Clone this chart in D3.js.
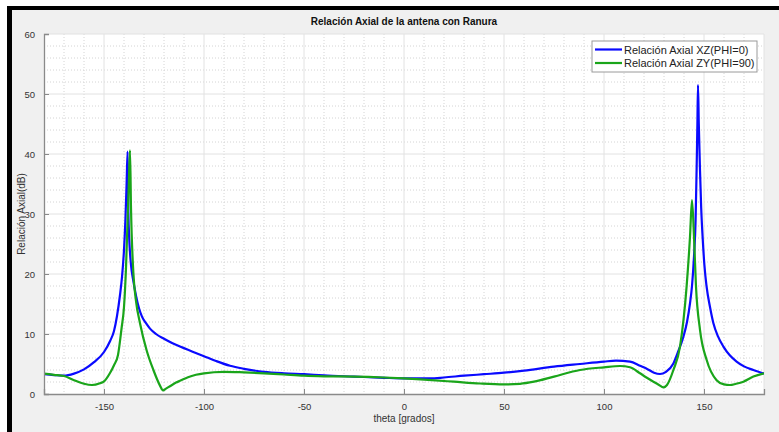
<!DOCTYPE html>
<html>
<head>
<meta charset="utf-8">
<script src="https://cdn.jsdelivr.net/npm/d3@7"></script>
<style>
    body { margin: 0; background: #ffffff; }
    #chart { width: 779px; height: 432px; }
    text { font-family: "Liberation Sans", Arial, sans-serif; }
</style>
</head>
<body>
<div id="chart"></div>
<script>
// Relación axial XZ (PHI=0)
const thetaXZ = [-180, -175, -170, -165, -160, -155, -150, -147, -145, -143.5, -142, -141, -140, -139.3, -138.7, -138.2,
    -137.8, -137.4, -136.5, -135.3, -134, -132.5, -131, -129, -127, -124, -120, -116, -112, -106, -100, -94, -87, -80, -70, -60, -50,
    -40, -25, -10, 0, 13, 20, 30, 40, 50, 60, 75, 88, 100, 106, 113, 118, 122, 125, 128, 131, 134.7, 137, 139.7, 141.5,
    143, 144, 145, 145.8, 146.3, 146.7, 147, 147.4, 148, 148.6, 149.3, 150.2, 151.3, 153, 154.7, 157, 159.7, 163, 166.3,
    170, 174.7, 180];
const valXZ = [3.3, 3.15, 3.05, 3.4, 4.1, 5.3, 7.0, 8.8, 10.5, 13, 16.5, 19.5, 24, 29, 35, 40.4,
    30, 26, 21.5, 18.8, 16.4, 14.3, 12.9, 11.8, 10.9, 10.0, 9.2, 8.5, 7.9, 7.1, 6.3, 5.5, 4.7, 4.2, 3.7, 3.45, 3.3,
    3.1, 2.9, 2.7, 2.6, 2.6, 2.75, 3.05, 3.3, 3.55, 3.9, 4.55, 5.0, 5.4, 5.55, 5.4, 4.7, 4.1, 3.55, 3.33, 3.7, 5.1, 7, 9.55, 12,
    15.1, 18, 22.9, 29, 37.3, 45, 51.5, 45, 37.3, 31, 26.2, 21.5, 17.9, 14.5, 11.8, 9.6, 7.9, 6.4, 5.4,
    4.6, 4.0, 3.4];

// Relación axial ZY (PHI=90)
const thetaZY = [-180, -175, -170, -165, -160, -156, -152, -150, -147, -145, -143, -141.2, -140, -139, -138.3, -137.6,
    -137, -136.5, -135.3, -134, -132, -128.7, -125.3, -122, -120.5, -119, -117, -114, -112, -108, -104, -100, -90, -80,
    -70, -60, -50, -40, -25, -10, 0, 12, 25, 38, 50, 58, 65, 75, 88, 100, 108, 113, 118, 121, 124.7, 127.5, 129.7, 131.5,
    134.7, 138, 141.3, 143, 144, 145, 146, 148, 151.3, 156.3, 160, 163, 166, 169.7, 174.7, 180];
const valZY = [3.4, 3.2, 3.0, 2.3, 1.7, 1.5, 1.8, 2.1, 3.5, 4.8, 6.5, 11, 14.5, 21, 28, 35,
    40.6, 31, 20.1, 15.5, 11.8, 7.3, 4.0, 1.4, 0.6, 0.9, 1.3, 1.9, 2.2, 2.8, 3.2, 3.45, 3.7, 3.6,
    3.45, 3.25, 3.05, 2.95, 2.9, 2.75, 2.6, 2.35, 2.05, 1.75, 1.6, 1.7, 2.05, 2.9, 4.0, 4.45, 4.67, 4.45, 3.45, 2.8, 2.05, 1.5, 1.1, 1.5,
    4.0, 7.9, 17.9, 26.2, 32.3, 26.2, 17.9, 10.7, 5.7, 2.3, 1.6, 1.5, 1.7, 2.05, 2.9, 3.45];

const xTicks = [-150, -100, -50, 0, 50, 100, 150];
const yTicks = [0, 10, 20, 30, 40, 50, 60];
const seriesNames = ["Relación Axial XZ(PHI=0)", "Relación Axial ZY(PHI=90)"];
const seriesColors = ["#0a0aff", "#1aa51a"];

class AxialVis {

    constructor(parentElement) {
        this.parentElement = parentElement;
        this.series = [
            thetaXZ.map((t, i) => ({theta: t, val: valXZ[i]})),
            thetaZY.map((t, i) => ({theta: t, val: valZY[i]}))
        ];
        this.initVis()
    }

    initVis() {
        let vis = this

        vis.W = 779;
        vis.H = 432;
        vis.margin = {top: 34, right: 15, bottom: 38, left: 44};
        vis.width = vis.W - vis.margin.left - vis.margin.right;
        vis.height = vis.H - vis.margin.top - vis.margin.bottom;

        vis.svg = d3.select("#" + vis.parentElement).append("svg")
            .attr("width", vis.W)
            .attr("height", vis.H);

        // figure background + black frame from the screenshot
        vis.svg.append("rect").attr("x", 7).attr("y", 6).attr("width", vis.W - 7).attr("height", vis.H - 6)
            .attr("fill", "#000");
        vis.svg.append("rect").attr("x", 12).attr("y", 10).attr("width", vis.W - 12).attr("height", vis.H - 10)
            .attr("fill", "#f0f0f0");

        vis.g = vis.svg.append("g")
            .attr("transform", `translate(${vis.margin.left}, ${vis.margin.top})`);

        vis.g.append("rect")
            .attr("width", vis.width)
            .attr("height", vis.height)
            .attr("fill", "#fff");

        vis.x = d3.scaleLinear().domain([-180, 180]).range([0, vis.width]);
        vis.y = d3.scaleLinear().domain([0, 60]).range([vis.height, 0]);

        // minor grid (dotted)
        vis.g.append("g").selectAll("line")
            .data(d3.range(-170, 180, 10).filter(d => d % 50 !== 0))
            .enter().append("line")
            .attr("x1", d => vis.x(d)).attr("x2", d => vis.x(d))
            .attr("y1", 0).attr("y2", vis.height)
            .attr("stroke", "#d4d4d4").attr("stroke-dasharray", "1,2");
        vis.g.append("g").selectAll("line")
            .data(d3.range(2, 60, 2).filter(d => d % 10 !== 0))
            .enter().append("line")
            .attr("x1", 0).attr("x2", vis.width)
            .attr("y1", d => vis.y(d)).attr("y2", d => vis.y(d))
            .attr("stroke", "#d4d4d4").attr("stroke-dasharray", "1,2");

        // major grid
        vis.g.append("g").selectAll("line")
            .data(xTicks)
            .enter().append("line")
            .attr("x1", d => vis.x(d)).attr("x2", d => vis.x(d))
            .attr("y1", 0).attr("y2", vis.height)
            .attr("stroke", "#e2e2e2");
        vis.g.append("g").selectAll("line")
            .data(yTicks.slice(1))
            .enter().append("line")
            .attr("x1", 0).attr("x2", vis.width)
            .attr("y1", d => vis.y(d)).attr("y2", d => vis.y(d))
            .attr("stroke", "#e2e2e2");
        // right edge
        vis.g.append("line").attr("x1", vis.width).attr("x2", vis.width).attr("y1", 0).attr("y2", vis.height)
            .attr("stroke", "#e2e2e2");

        // lines
        vis.g.append("clipPath").attr("id", "clip")
            .append("rect").attr("width", vis.width).attr("height", vis.height);

        vis.line = d3.line()
            .x(d => vis.x(d.theta))
            .y(d => vis.y(d.val))
            .curve(d3.curveMonotoneX);

        vis.g.append("g").attr("clip-path", "url(#clip)")
            .selectAll("path")
            .data(vis.series)
            .enter().append("path")
            .attr("d", vis.line)
            .attr("fill", "none")
            .attr("stroke", (d, i) => seriesColors[i])
            .attr("stroke-width", 2.2)
            .attr("stroke-linejoin", "round");

        // axes (ticks point inward, matlab style), plain hyphen for negatives
        vis.xAxis = d3.axisBottom(vis.x).tickValues(xTicks).tickSize(-5).tickPadding(9).tickFormat(d => String(d));
        vis.yAxis = d3.axisLeft(vis.y).tickValues(yTicks).tickSize(-5).tickPadding(9).tickFormat(d => String(d));

        let xg = vis.g.append("g")
            .attr("transform", `translate(0, ${vis.height})`)
            .call(vis.xAxis);
        let yg = vis.g.append("g").call(vis.yAxis);

        [xg, yg].forEach(a => {
            a.select(".domain").attr("stroke", "#8a8a8a").attr("stroke-width", 1.3);
            a.selectAll(".tick line").attr("stroke", "#8a8a8a");
            a.selectAll(".tick text").attr("fill", "#333").style("font-size", "9.5px")
                .style("font-family", "'Liberation Sans', Arial, sans-serif");
        });

        // title and labels
        vis.svg.append("text")
            .attr("x", vis.margin.left + vis.width / 2)
            .attr("y", 25)
            .attr("text-anchor", "middle")
            .style("font-size", "10px")
            .style("font-weight", "bold")
            .attr("fill", "#111")
            .text("Relación Axial de la antena con Ranura");

        vis.svg.append("text")
            .attr("x", vis.margin.left + vis.width / 2)
            .attr("y", 422)
            .attr("text-anchor", "middle")
            .style("font-size", "10px")
            .attr("fill", "#333")
            .text("theta [grados]");

        vis.svg.append("text")
            .attr("transform", `translate(25, ${vis.margin.top + vis.height / 2}) rotate(-90)`)
            .attr("text-anchor", "middle")
            .style("font-size", "10px")
            .attr("fill", "#333")
            .text("Relación Axial(dB)");

        // legend
        vis.legend = vis.svg.append("g").attr("transform", "translate(592, 41)");
        vis.legend.append("rect")
            .attr("width", 165).attr("height", 31)
            .attr("fill", "#fff").attr("stroke", "#9a9a9a");
        let items = vis.legend.selectAll(".item")
            .data(seriesNames)
            .enter().append("g")
            .attr("class", "item")
            .attr("transform", (d, i) => `translate(0, ${8.5 + i * 13.5})`);
        items.append("line")
            .attr("x1", 3).attr("x2", 30)
            .attr("stroke", (d, i) => seriesColors[i]).attr("stroke-width", 2.2);
        items.append("text")
            .attr("x", 32).attr("y", 4)
            .style("font-size", "11px")
            .attr("fill", "#222")
            .text(d => d);
    }
}

new AxialVis("chart");
</script>
</body>
</html>
